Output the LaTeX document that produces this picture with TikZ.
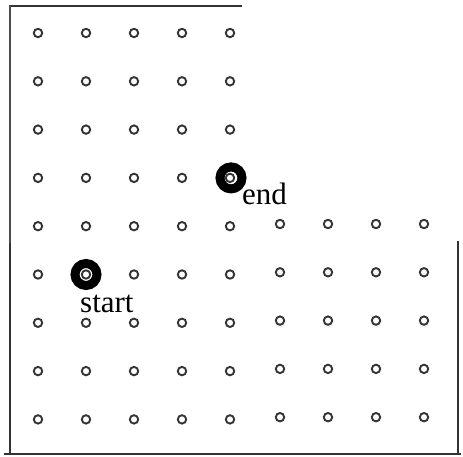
\documentclass[tikz,border=0pt]{standalone}
\usepackage{fontspec}
\setmainfont{Liberation Serif}
\usetikzlibrary{positioning}
\begin{document}
\begin{tikzpicture}[x=1pt, y=-1pt,
  pin/.style={circle, draw=black!80, line width=1.9pt, minimum size=8.4pt, inner sep=0pt},
  ring/.style={circle, draw=black, line width=9pt, minimum size=22pt, inner sep=0pt},
  wall/.style={black!80, line width=2pt},
  lbl/.style={font=\fontsize{31}{31}\selectfont, inner sep=0pt, anchor=base west}
]
\useasboundingbox (0,0) rectangle (463,457);

% walls
\draw[wall] (9,6) -- (242,6);
\draw[black!70, line width=1.4pt] (10,5) -- (10,243);
\draw[wall, line width=2.2pt] (10,243) -- (10,453);
\draw[wall, line width=2.2pt] (4,454) -- (461,454);
\draw[wall, line width=2.2pt] (458,241) -- (458,455);

% grid of pegs
\foreach \r in {0,...,8}
  \foreach \c in {0,...,4}
    \node[pin] (p-\r-\c) at ({38+48*\c},{33+48.3*\r}) {};
\foreach \r in {4,...,8}
  \foreach \c in {5,...,8}
    \node[pin] (p-\r-\c) at ({280+48*(\c-5)},{224+48.3*(\r-4)}) {};

% start and end
\node[ring] (start) at (p-5-1) {};
\node[ring] (end) at ([xshift=1pt]p-3-4) {};
\node[lbl] (start-lbl) at (80,312) {start};
\node[lbl] (end-lbl) at (242,205) {end};
\end{tikzpicture}
\end{document}
